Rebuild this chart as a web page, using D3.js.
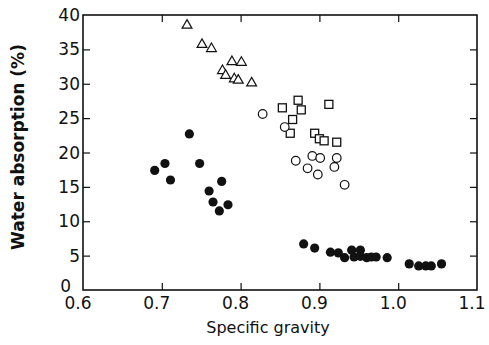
<!DOCTYPE html>
<html>
<head>
<meta charset="utf-8">
<script src="https://cdn.jsdelivr.net/npm/d3@7"></script>
<style>
  body { margin: 0; background: #fff; }
  svg { display: block; }
  text { font-family: "DejaVu Sans", Verdana, sans-serif; fill: #111; }
</style>
</head>
<body>
<svg width="489" height="345"></svg>
<script>
const width = 489;
const height = 345;

// values: [specific gravity, water absorption %]
const triangles = [
    [0.732, 38.5], [0.751, 35.7], [0.763, 35.1], [0.777, 31.9], [0.781, 31.2],
    [0.789, 33.2], [0.801, 33.1], [0.792, 30.7], [0.797, 30.5], [0.814, 30.1]
];
const squares = [
    [0.873, 27.6], [0.853, 26.5], [0.877, 26.2], [0.912, 27.0], [0.866, 24.8],
    [0.863, 22.8], [0.894, 22.8], [0.900, 22.0], [0.906, 21.7], [0.922, 21.5]
];
const openCircles = [
    [0.828, 25.6], [0.856, 23.7], [0.891, 19.5], [0.901, 19.2], [0.922, 19.2],
    [0.870, 18.8], [0.885, 17.7], [0.919, 17.9], [0.898, 16.8], [0.932, 15.3]
];
const filledLow = [
    [0.735, 22.7], [0.704, 18.4], [0.691, 17.4], [0.748, 18.4], [0.711, 16.0],
    [0.776, 15.8], [0.760, 14.4], [0.765, 12.8], [0.784, 12.4], [0.773, 11.5]
];
const filledHigh = [
    [0.880, 6.7], [0.894, 6.1], [0.914, 5.5], [0.924, 5.4], [0.932, 4.7],
    [0.941, 5.8], [0.944, 4.8], [0.952, 5.8], [0.952, 4.9], [0.960, 4.7],
    [0.966, 4.8], [0.972, 4.8], [0.986, 4.7], [1.014, 3.8], [1.026, 3.5],
    [1.035, 3.5], [1.042, 3.5], [1.055, 3.8]
];
const xTicks = [0.6, 0.7, 0.8, 0.9, 1.0, 1.1];
const yTicks = [0, 5, 10, 15, 20, 25, 30, 35, 40];

const svg = d3.select("svg");

const x = d3.scaleLinear().domain([0.6, 1.1]).range([83, 477]);
const y = d3.scaleLinear().domain([0, 40]).range([290, 15]);

// frame
svg.append("rect")
    .attr("x", x(0.6))
    .attr("y", y(40))
    .attr("width", x(1.1) - x(0.6))
    .attr("height", y(0) - y(40))
    .attr("fill", "none")
    .attr("stroke", "#111")
    .attr("stroke-width", 1.6);

// inward ticks on all four sides
const tickLen = 7;
svg.append("g")
    .attr("transform", `translate(0,${y(0)})`)
    .call(d3.axisBottom(x).tickValues(xTicks.slice(1, -1)).tickSize(-tickLen).tickFormat(""))
    .call(g => g.select(".domain").remove());
svg.append("g")
    .attr("transform", `translate(0,${y(40)})`)
    .call(d3.axisTop(x).tickValues(xTicks.slice(1, -1)).tickSize(-tickLen).tickFormat(""))
    .call(g => g.select(".domain").remove());
svg.append("g")
    .attr("transform", `translate(${x(0.6)},0)`)
    .call(d3.axisLeft(y).tickValues(yTicks.slice(1, -1)).tickSize(-tickLen).tickFormat(""))
    .call(g => g.select(".domain").remove());
svg.append("g")
    .attr("transform", `translate(${x(1.1)},0)`)
    .call(d3.axisRight(y).tickValues(yTicks.slice(1, -1)).tickSize(-tickLen).tickFormat(""))
    .call(g => g.select(".domain").remove());
svg.selectAll(".tick line").attr("stroke", "#111").attr("stroke-width", 1.2);

// tick labels
svg.append("g").selectAll("text")
    .data(xTicks)
    .enter().append("text")
    .attr("x", d => x(d) - 5)
    .attr("y", 309)
    .attr("text-anchor", "middle")
    .style("font-size", "17px")
    .text(d => d3.format(".1f")(d));

svg.append("g").selectAll("text")
    .data(yTicks)
    .enter().append("text")
    .attr("x", d => d === 0 ? 71 : 80)
    .attr("y", d => y(d) + (d === 0 ? 2 : 6))
    .attr("text-anchor", "end")
    .style("font-size", "17px")
    .text(d => d);

// axis titles
svg.append("text")
    .attr("x", 268)
    .attr("y", 333)
    .attr("text-anchor", "middle")
    .style("font-size", "16px")
    .text("Specific gravity");

svg.append("text")
    .attr("transform", "translate(24,147) rotate(-90)")
    .attr("text-anchor", "middle")
    .style("font-size", "17px")
    .style("font-weight", "bold")
    .text("Water absorption (%)");

// markers
const marks = svg.append("g");

marks.selectAll(".tri")
    .data(triangles)
    .enter().append("path")
    .attr("class", "tri")
    .attr("d", d3.symbol(d3.symbolTriangle, 42))
    .attr("transform", d => `translate(${x(d[0])},${y(d[1])})`)
    .attr("fill", "#fff")
    .attr("stroke", "#111")
    .attr("stroke-width", 1.2);

marks.selectAll(".sq")
    .data(squares)
    .enter().append("rect")
    .attr("class", "sq")
    .attr("x", d => x(d[0]) - 4)
    .attr("y", d => y(d[1]) - 4)
    .attr("width", 8)
    .attr("height", 8)
    .attr("fill", "#fff")
    .attr("stroke", "#111")
    .attr("stroke-width", 1.3);

marks.selectAll(".oc")
    .data(openCircles)
    .enter().append("circle")
    .attr("class", "oc")
    .attr("cx", d => x(d[0]))
    .attr("cy", d => y(d[1]))
    .attr("r", 4.3)
    .attr("fill", "#fff")
    .attr("stroke", "#111")
    .attr("stroke-width", 1.2);

marks.selectAll(".fc")
    .data(filledLow.concat(filledHigh))
    .enter().append("circle")
    .attr("class", "fc")
    .attr("cx", d => x(d[0]))
    .attr("cy", d => y(d[1]))
    .attr("r", 4.6)
    .attr("fill", "#111");
</script>
</body>
</html>
